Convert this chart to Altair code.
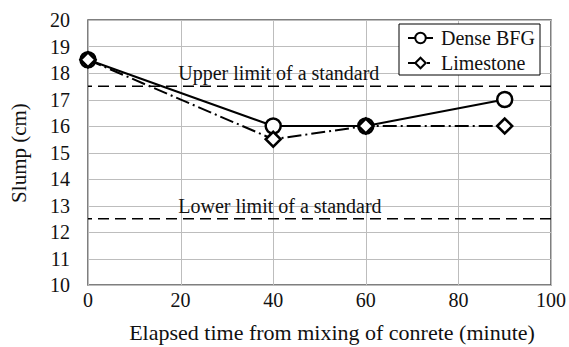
import altair as alt
import pandas as pd

time_min = [0, 40, 60, 90]
dense_bfg = [18.5, 16.0, 16.0, 17.0]
limestone = [18.5, 15.5, 16.0, 16.0]
series_names = ["Dense BFG", "Limestone"]

x_ticks = [0, 20, 40, 60, 80, 100]
y_ticks = [10, 11, 12, 13, 14, 15, 16, 17, 18, 19, 20]
x_title = "Elapsed time from mixing of conrete (minute)"
y_title = "Slump (cm)"

limit_values = [17.5, 12.5]
limit_labels = ["Upper limit of a standard", "Lower limit of a standard"]
limit_label_x = [19.5, 19.5]

FONT = "Liberation Serif"
FONT2 = "Times New Roman"
TXT = "#111"
W, H = 463, 265

df = pd.DataFrame({
    "time": time_min * 2,
    "slump": dense_bfg + limestone,
    "series": [series_names[0]] * len(time_min) + [series_names[1]] * len(time_min),
})
lim = pd.DataFrame({"y": limit_values, "label": limit_labels, "x": limit_label_x})
xt = pd.DataFrame({"v": x_ticks, "lab": [str(v) for v in x_ticks]})
yt = pd.DataFrame({"v": y_ticks, "lab": [str(v) for v in y_ticks]})
titles = pd.DataFrame({"lab": [x_title]})
ytitles = pd.DataFrame({"lab": [y_title]})
legend_df = pd.DataFrame({"lab": series_names, "row": [0, 1]})
one = pd.DataFrame({"k": [0]})

xs = alt.Scale(domain=[0, 100], nice=False, zero=False)
ys = alt.Scale(domain=[10, 20], nice=False, zero=False)

x_axis = alt.Axis(values=x_ticks, title=None, labels=False, grid=True, ticks=False, domain=False,
                  gridColor="#bdbdbd", gridWidth=1)
y_axis = alt.Axis(values=y_ticks, title=None, labels=False, grid=True, ticks=False, domain=False,
                  gridColor="#bdbdbd", gridWidth=1)

X = alt.X("time:Q", scale=xs, axis=x_axis)
Y = alt.Y("slump:Q", scale=ys, axis=y_axis)

dense_df = df[df["series"] == series_names[0]]
lime_df = df[df["series"] == series_names[1]]

line_dense = alt.Chart(dense_df).mark_line(color="black", strokeWidth=2).encode(x=X, y=Y)
line_lime = alt.Chart(lime_df).mark_line(color="black", strokeWidth=2, strokeDash=[14, 4, 2, 4]).encode(x=X, y=Y)

circles = alt.Chart(dense_df).mark_point(
    shape="circle", size=225, filled=True, fill="white", stroke="black", strokeWidth=2.5, opacity=1
).encode(x=X, y=Y)
diamonds = alt.Chart(lime_df).mark_point(
    shape="diamond", size=225, filled=True, fill="white", stroke="black", strokeWidth=2.5, opacity=1
).encode(x=X, y=Y)

rules = alt.Chart(lim).mark_rule(color="black", strokeWidth=1.5, strokeDash=[11, 6]).encode(
    y=alt.Y("y:Q", scale=ys, axis=y_axis)
)
texts = alt.Chart(lim).mark_text(align="left", baseline="alphabetic", dy=-6, font=FONT,
                                 fontSize=20, color=TXT).encode(
    x=alt.X("x:Q", scale=xs, axis=x_axis), y=alt.Y("y:Q", scale=ys, axis=y_axis), text="label:N"
)

# tick labels
x_labels = alt.Chart(xt).mark_text(align="center", baseline="alphabetic", font=FONT2,
                                   fontSize=20, color=TXT).encode(
    x=alt.X("v:Q", scale=xs, axis=x_axis), y=alt.value(H + 22), text="lab:N"
)
y_labels = alt.Chart(yt).mark_text(align="right", baseline="middle", dy=1, font=FONT2,
                                   fontSize=20, color=TXT).encode(
    y=alt.Y("v:Q", scale=ys, axis=y_axis), x=alt.value(-18), text="lab:N"
)

# axis titles
x_title_mark = alt.Chart(titles).mark_text(align="center", baseline="alphabetic", font=FONT2,
                                           fontSize=22, color=TXT).encode(
    x=alt.value(244), y=alt.value(H + 55), text="lab:N"
)
y_title_mark = alt.Chart(ytitles).mark_text(align="center", baseline="middle", angle=270, font=FONT2,
                                            fontSize=21, color=TXT).encode(
    x=alt.value(-68), y=alt.value(133), text="lab:N"
)

# legend
leg_box = alt.Chart(one).mark_rect(fill="white", stroke="black", strokeWidth=1).encode(
    x=alt.value(311), x2=alt.value(452), y=alt.value(4), y2=alt.value(55)
)
row_y = [18, 43]
leg_stub1 = alt.Chart(one).mark_rule(color="black", strokeWidth=2).encode(
    x=alt.value(320), x2=alt.value(345), y=alt.value(row_y[0])
)
leg_sym1 = alt.Chart(one).mark_point(shape="circle", size=110, filled=True, fill="white",
                                     stroke="black", strokeWidth=2, opacity=1).encode(
    x=alt.value(332.5), y=alt.value(row_y[0])
)
leg_stub2 = alt.Chart(one).mark_rule(color="black", strokeWidth=2).encode(
    x=alt.value(320), x2=alt.value(328), y=alt.value(row_y[1])
)
leg_dot2 = alt.Chart(one).mark_rule(color="black", strokeWidth=2).encode(
    x=alt.value(339), x2=alt.value(342), y=alt.value(row_y[1])
)
leg_sym2 = alt.Chart(one).mark_point(shape="diamond", size=110, filled=True, fill="white",
                                     stroke="black", strokeWidth=2, opacity=1).encode(
    x=alt.value(332.5), y=alt.value(row_y[1])
)
leg_txt1 = alt.Chart(legend_df[legend_df["row"] == 0]).mark_text(
    align="left", baseline="middle", font=FONT2, fontSize=20, color=TXT).encode(
    x=alt.value(353), y=alt.value(row_y[0] + 1), text="lab:N"
)
leg_txt2 = alt.Chart(legend_df[legend_df["row"] == 1]).mark_text(
    align="left", baseline="middle", font=FONT2, fontSize=20, color=TXT).encode(
    x=alt.value(353), y=alt.value(row_y[1] + 1), text="lab:N"
)

chart = alt.layer(
    rules, texts, line_dense, line_lime, circles, diamonds, x_labels, y_labels,
    x_title_mark, y_title_mark, leg_box, leg_stub1, leg_sym1, leg_stub2, leg_dot2, leg_sym2,
    leg_txt1, leg_txt2
).properties(
    width=W, height=H,
    autosize=alt.AutoSizeParams(type="none"),
    padding={"left": 88, "top": 20, "right": 18, "bottom": 62},
    background="white",
).configure_view(stroke="#555", strokeWidth=1.5)

chart.save("out.html", embed_options={"renderer": "svg", "actions": False})
